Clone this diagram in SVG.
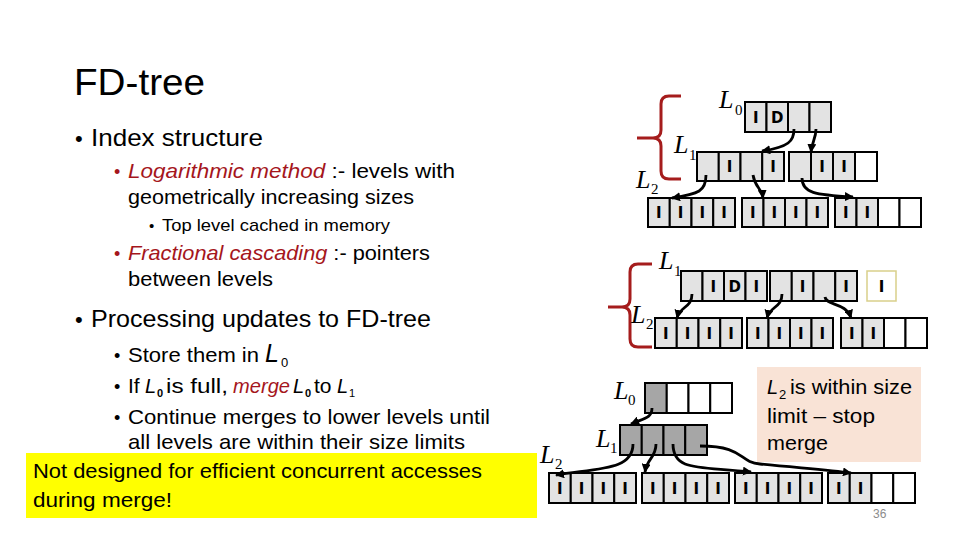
<svg xmlns="http://www.w3.org/2000/svg" width="960" height="540" viewBox="0 0 960 540">
<defs>
<marker id="ah" viewBox="0 0 10 10" refX="9" refY="5" markerWidth="9" markerHeight="9" orient="auto" markerUnits="userSpaceOnUse"><path d="M0,0 L10,5 L0,10 z" fill="#000"/></marker>
</defs>
<style>
.t{font-family:"Liberation Sans",Arial,sans-serif;fill:#000}
.r{fill:#a5161c;font-style:italic}
.it{font-style:italic}
.cl{fill:#e3e3e3;stroke:#000;stroke-width:2}
.cw{fill:#fff;stroke:#000;stroke-width:2}
.cd{fill:#a6a6a6;stroke:#000;stroke-width:2}
.m{font-family:"DejaVu Sans",sans-serif;font-weight:bold;font-size:15px;text-anchor:middle;fill:#000}
.lv{font-family:"Liberation Serif",serif;font-style:italic;font-size:26px;fill:#000}
.sub{font-family:"Liberation Serif",serif;font-size:15px;fill:#000}
.ar{fill:none;stroke:#000;stroke-width:2.8;marker-end:url(#ah)}
.br{fill:none;stroke:#a51c1c;stroke-width:3}
</style>
<rect width="960" height="540" fill="#fff"/>

<g id="title"><text class="t" x="74" y="95" font-size="36" textLength="131" lengthAdjust="spacingAndGlyphs">FD-tree</text></g>

<g id="bullets">
<text class="t" x="75" y="146" font-size="22">•</text>
<text class="t" x="91" y="146" font-size="24" textLength="172" lengthAdjust="spacingAndGlyphs">Index structure</text>
<text class="t" x="114" y="178" font-size="18" style="fill:#a5161c">•</text>
<text class="t" x="128" y="178" font-size="21" textLength="327" lengthAdjust="spacingAndGlyphs"><tspan class="r">Logarithmic method</tspan> :-  levels with</text>
<text class="t" x="128" y="204" font-size="21" textLength="286" lengthAdjust="spacingAndGlyphs">geometrically increasing sizes</text>
<text class="t" x="149" y="231" font-size="15">•</text>
<text class="t" x="162" y="231" font-size="17" textLength="228" lengthAdjust="spacingAndGlyphs">Top level cached in memory</text>
<text class="t" x="114" y="260" font-size="18" style="fill:#a5161c">•</text>
<text class="t" x="128" y="260" font-size="21" textLength="302" lengthAdjust="spacingAndGlyphs"><tspan class="r">Fractional cascading</tspan> :- pointers</text>
<text class="t" x="128" y="286" font-size="21" textLength="145" lengthAdjust="spacingAndGlyphs">between levels</text>
<text class="t" x="75" y="327" font-size="22">•</text>
<text class="t" x="91" y="327" font-size="24" textLength="340" lengthAdjust="spacingAndGlyphs">Processing updates to FD-tree</text>
<text class="t" x="114" y="362" font-size="18">•</text>
<text class="t" x="128" y="362" font-size="21" textLength="131" lengthAdjust="spacingAndGlyphs">Store them in</text>
<text class="t it" x="265" y="362" font-size="25">L</text>
<text class="t" x="281" y="367" font-size="13">0</text>
<text class="t" x="114" y="393" font-size="18">•</text>
<text class="t" x="128" y="393" font-size="21">If</text>
<text class="t it" x="145" y="393" font-size="20">L</text>
<text class="t" x="157" y="397" font-size="11" font-weight="bold">0</text>
<text class="t" x="166" y="393" font-size="21" textLength="62" lengthAdjust="spacingAndGlyphs">is full,</text>
<text class="t r" x="233" y="393" font-size="21" textLength="57" lengthAdjust="spacingAndGlyphs">merge</text>
<text class="t it" x="293" y="393" font-size="20">L</text>
<text class="t" x="305" y="397" font-size="11" font-weight="bold">0</text>
<text class="t" x="314" y="393" font-size="21">to</text>
<text class="t it" x="337" y="393" font-size="20">L</text>
<text class="t" x="349" y="397" font-size="11">1</text>
<text class="t" x="114" y="424" font-size="18">•</text>
<text class="t" x="128" y="424" font-size="21" textLength="362" lengthAdjust="spacingAndGlyphs">Continue merges to lower levels until</text>
<text class="t" x="128" y="449" font-size="21" textLength="337" lengthAdjust="spacingAndGlyphs">all levels are within their size limits</text>
</g>

<g id="note-yellow">
<rect x="26" y="453" width="511" height="65" fill="#ffff00"/>
<text class="t" x="33" y="478" font-size="21" textLength="449" lengthAdjust="spacingAndGlyphs">Not designed for efficient concurrent accesses</text>
<text class="t" x="33" y="507" font-size="21" textLength="139" lengthAdjust="spacingAndGlyphs">during merge!</text>
</g>

<g id="note-peach">
<rect x="757" y="367" width="164" height="95" fill="#f9e3d6"/>
<text class="t it" x="767" y="394" font-size="20">L</text>
<text class="t" x="779" y="399" font-size="13">2</text>
<text class="t" x="790" y="394" font-size="21" textLength="122" lengthAdjust="spacingAndGlyphs">is within size</text>
<text class="t" x="767" y="423" font-size="21" textLength="108" lengthAdjust="spacingAndGlyphs">limit – stop</text>
<text class="t" x="767" y="450" font-size="21" textLength="61" lengthAdjust="spacingAndGlyphs">merge</text>
</g>

<g id="page-number"><text class="t" x="873" y="518" font-size="12" style="fill:#8c8c8c">36</text></g>

<!-- Diagram 1 -->
<g id="d1-brace"><path class="br" d="M681,96 H669 Q661,96 661,104 V130 Q661,138 653,138 H637 M653,138 Q661,138 661,146 V171 Q661,179 669,179 H681"/></g>
<g id="d1-labels">
<text class="lv" x="719" y="108">L</text><text class="sub" x="735" y="115">0</text>
<text class="lv" x="674" y="153">L</text><text class="sub" x="689" y="160">1</text>
<text class="lv" x="636" y="188">L</text><text class="sub" x="651" y="194">2</text>
</g>
<g id="d1-L0">
<rect class="cl" x="745" y="102" width="21.5" height="30"/><rect class="cl" x="766.5" y="102" width="21.5" height="30"/><rect class="cl" x="788" y="102" width="21.5" height="30"/><rect class="cl" x="809.5" y="102" width="21.5" height="30"/>
<text class="m" x="755.75" y="123">I</text><text class="m" x="777.25" y="123">D</text>
</g>
<g id="d1-L1a">
<rect class="cl" x="697" y="152" width="21.75" height="29"/><rect class="cl" x="718.75" y="152" width="21.75" height="29"/><rect class="cl" x="740.5" y="152" width="21.75" height="29"/><rect class="cl" x="762.25" y="152" width="21.75" height="29"/>
<text class="m" x="729.6" y="172">I</text><text class="m" x="773.1" y="172">I</text>
</g>
<g id="d1-L1b">
<rect class="cl" x="789" y="152" width="22" height="29"/><rect class="cl" x="811" y="152" width="22" height="29"/><rect class="cl" x="833" y="152" width="22" height="29"/><rect class="cw" x="855" y="152" width="22" height="29"/>
<text class="m" x="822" y="172">I</text><text class="m" x="844" y="172">I</text>
</g>
<g id="d1-L2a">
<rect class="cl" x="648" y="198" width="21.75" height="29"/><rect class="cl" x="669.75" y="198" width="21.75" height="29"/><rect class="cl" x="691.5" y="198" width="21.75" height="29"/><rect class="cl" x="713.25" y="198" width="21.75" height="29"/>
<text class="m" x="658.9" y="218">I</text><text class="m" x="680.6" y="218">I</text><text class="m" x="702.4" y="218">I</text><text class="m" x="724.1" y="218">I</text>
</g>
<g id="d1-L2b">
<rect class="cl" x="742" y="198" width="21.5" height="29"/><rect class="cl" x="763.5" y="198" width="21.5" height="29"/><rect class="cl" x="785" y="198" width="21.5" height="29"/><rect class="cl" x="806.5" y="198" width="21.5" height="29"/>
<text class="m" x="752.75" y="218">I</text><text class="m" x="774.25" y="218">I</text><text class="m" x="795.75" y="218">I</text><text class="m" x="817.25" y="218">I</text>
</g>
<g id="d1-L2c">
<rect class="cl" x="835" y="198" width="21.5" height="29"/><rect class="cl" x="856.5" y="198" width="21.5" height="29"/><rect class="cw" x="878" y="198" width="21.5" height="29"/><rect class="cw" x="899.5" y="198" width="21.5" height="29"/>
<text class="m" x="845.75" y="218">I</text><text class="m" x="867.25" y="218">I</text>
</g>

<!-- Diagram 2 -->
<g id="d2-brace"><path class="br" d="M652,264 H638 Q630,264 630,272 V299 Q630,307 622,307 H608 M622,307 Q630,307 630,315 V339 Q630,347 638,347 H652"/></g>
<g id="d2-labels">
<text class="lv" x="659" y="269">L</text><text class="sub" x="674" y="276">1</text>
<text class="lv" x="631" y="323">L</text><text class="sub" x="646" y="329">2</text>
</g>
<g id="d2-L1a">
<rect class="cl" x="681" y="271" width="21.5" height="30"/><rect class="cl" x="702.5" y="271" width="21.5" height="30"/><rect class="cl" x="724" y="271" width="21.5" height="30"/><rect class="cl" x="745.5" y="271" width="21.5" height="30"/>
<text class="m" x="713.25" y="292">I</text><text class="m" x="734.75" y="292">D</text><text class="m" x="756.25" y="292">I</text>
</g>
<g id="d2-L1b">
<rect class="cl" x="770" y="271" width="21.75" height="30"/><rect class="cl" x="791.75" y="271" width="21.75" height="30"/><rect class="cl" x="813.5" y="271" width="21.75" height="30"/><rect class="cl" x="835.25" y="271" width="21.75" height="30"/>
<text class="m" x="802.6" y="292">I</text><text class="m" x="846.1" y="292">I</text>
</g>
<g id="d2-new">
<rect x="867" y="271" width="29" height="30" fill="#fff" stroke="#d9cf8a" stroke-width="1.5"/>
<text class="m" x="881.5" y="292">I</text>
</g>
<g id="d2-L2a">
<rect class="cl" x="655" y="318" width="21.75" height="30"/><rect class="cl" x="676.75" y="318" width="21.75" height="30"/><rect class="cl" x="698.5" y="318" width="21.75" height="30"/><rect class="cl" x="720.25" y="318" width="21.75" height="30"/>
<text class="m" x="665.9" y="339">I</text><text class="m" x="687.6" y="339">I</text><text class="m" x="709.4" y="339">I</text><text class="m" x="731.1" y="339">I</text>
</g>
<g id="d2-L2b">
<rect class="cl" x="747" y="318" width="21.5" height="30"/><rect class="cl" x="768.5" y="318" width="21.5" height="30"/><rect class="cl" x="790" y="318" width="21.5" height="30"/><rect class="cl" x="811.5" y="318" width="21.5" height="30"/>
<text class="m" x="757.75" y="339">I</text><text class="m" x="779.25" y="339">I</text><text class="m" x="800.75" y="339">I</text><text class="m" x="822.25" y="339">I</text>
</g>
<g id="d2-L2c">
<rect class="cl" x="841" y="318" width="21.5" height="30"/><rect class="cl" x="862.5" y="318" width="21.5" height="30"/><rect class="cw" x="884" y="318" width="21.5" height="30"/><rect class="cw" x="905.5" y="318" width="21.5" height="30"/>
<text class="m" x="851.75" y="339">I</text><text class="m" x="873.25" y="339">I</text>
</g>

<!-- Diagram 3 -->
<g id="d3-labels">
<text class="lv" x="614" y="399">L</text><text class="sub" x="628" y="405">0</text>
<text class="lv" x="596" y="447">L</text><text class="sub" x="610" y="453">1</text>
<text class="lv" x="540" y="463">L</text><text class="sub" x="555" y="469">2</text>
</g>
<g id="d3-L0">
<rect class="cd" x="645" y="383" width="21.75" height="30"/><rect class="cw" x="666.75" y="383" width="21.75" height="30"/><rect class="cw" x="688.5" y="383" width="21.75" height="30"/><rect class="cw" x="710.25" y="383" width="21.75" height="30"/>
</g>
<g id="d3-L1">
<rect class="cd" x="620" y="425" width="21.75" height="30"/><rect class="cd" x="641.75" y="425" width="21.75" height="30"/><rect class="cd" x="663.5" y="425" width="21.75" height="30"/><rect class="cd" x="685.25" y="425" width="21.75" height="30"/>
</g>
<g id="d3-L2a">
<rect class="cl" x="549" y="473" width="21.75" height="30"/><rect class="cl" x="570.75" y="473" width="21.75" height="30"/><rect class="cl" x="592.5" y="473" width="21.75" height="30"/><rect class="cl" x="614.25" y="473" width="21.75" height="30"/>
<text class="m" x="559.9" y="494">I</text><text class="m" x="581.6" y="494">I</text><text class="m" x="603.4" y="494">I</text><text class="m" x="625.1" y="494">I</text>
</g>
<g id="d3-L2b">
<rect class="cl" x="642" y="473" width="21.75" height="30"/><rect class="cl" x="663.75" y="473" width="21.75" height="30"/><rect class="cl" x="685.5" y="473" width="21.75" height="30"/><rect class="cl" x="707.25" y="473" width="21.75" height="30"/>
<text class="m" x="652.9" y="494">I</text><text class="m" x="674.6" y="494">I</text><text class="m" x="696.4" y="494">I</text><text class="m" x="718.1" y="494">I</text>
</g>
<g id="d3-L2c">
<rect class="cl" x="735" y="473" width="21.75" height="30"/><rect class="cl" x="756.75" y="473" width="21.75" height="30"/><rect class="cl" x="778.5" y="473" width="21.75" height="30"/><rect class="cl" x="800.25" y="473" width="21.75" height="30"/>
<text class="m" x="745.9" y="494">I</text><text class="m" x="767.6" y="494">I</text><text class="m" x="789.4" y="494">I</text><text class="m" x="811.1" y="494">I</text>
</g>
<g id="d3-L2d">
<rect class="cl" x="828" y="473" width="21.75" height="30"/><rect class="cl" x="849.75" y="473" width="21.75" height="30"/><rect class="cw" x="871.5" y="473" width="21.75" height="30"/><rect class="cw" x="893.25" y="473" width="21.75" height="30"/>
<text class="m" x="838.9" y="494">I</text><text class="m" x="860.6" y="494">I</text>
</g>

<g id="connectors">
<path class="ar" d="M794,129 C794,141 789,147 762,151"/>
<path class="ar" d="M816,129 C816,138 812,142 811,152"/>
<path class="ar" d="M706,175 C706,191 699,194 672,198"/>
<path class="ar" d="M753,175 C755,188 762,188 763,198"/>
<path class="ar" d="M802,178 C802,193 815,195 853,197"/>
<path class="ar" d="M692,294 C692,308 680,306 677,318"/>
<path class="ar" d="M782,294 C782,308 770,306 767,318"/>
<path class="ar" d="M825,297 C826,306 846,302 851,318"/>
<path class="ar" d="M652,408 C652,418 645,418 631,424"/>
<path class="ar" d="M633,444 C633,470 600,468 556,475"/>
<path class="ar" d="M656,444 C656,458 647,458 645,472"/>
<path class="ar" d="M673,444 C673,472 700,466 751,472"/>
<path class="ar" d="M700,446 C745,446 738,462 760,464 C800,468 830,470 851,473"/>
</g>
</svg>
